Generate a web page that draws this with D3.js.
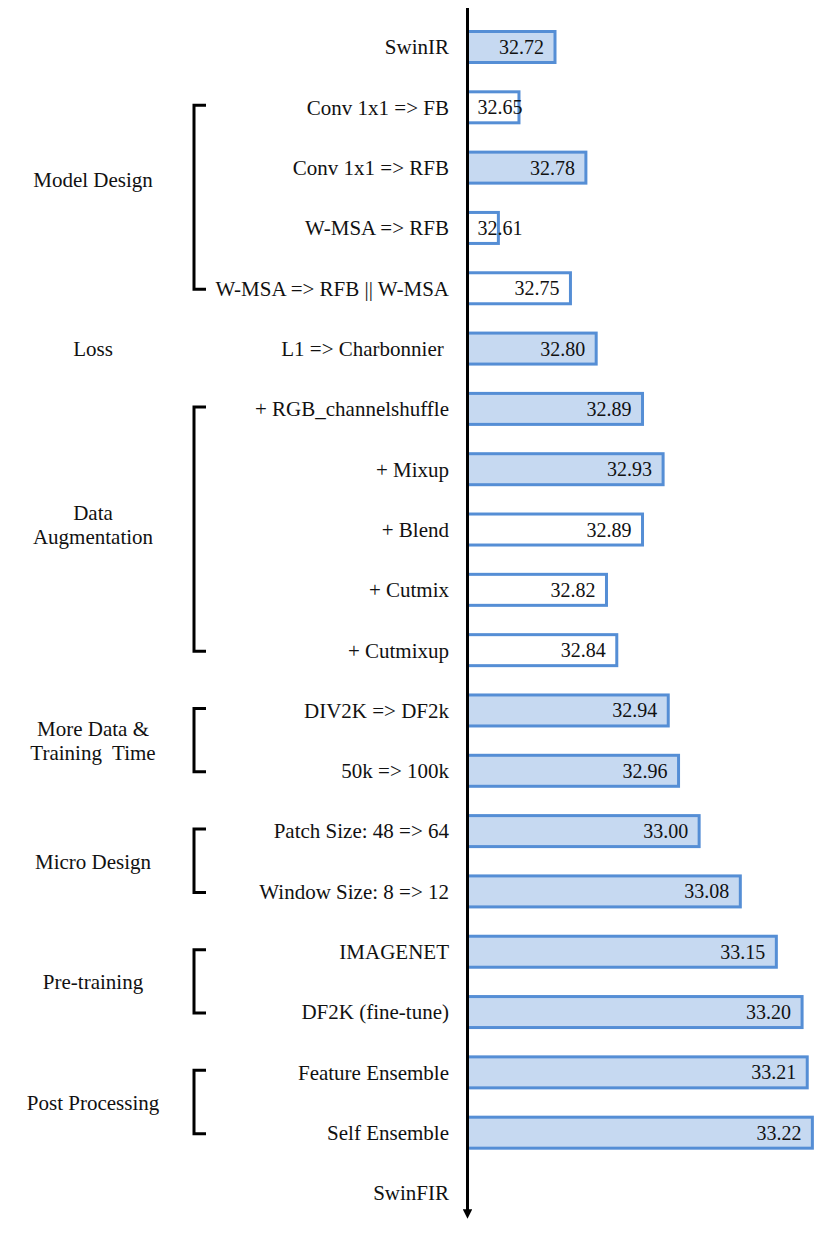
<!DOCTYPE html>
<html>
<head>
<meta charset="utf-8">
<script src="https://cdn.jsdelivr.net/npm/d3@7"></script>
<style>
  body { margin: 0; background: #fff; }
</style>
</head>
<body>
<svg id="ablation" width="831" height="1244"></svg>
<script>
// Steps from SwinIR to SwinFIR, top to bottom.
var steps = ["SwinIR", "Conv 1x1 => FB", "Conv 1x1 => RFB", "W-MSA => RFB",
  "W-MSA => RFB || W-MSA", "L1 => Charbonnier", "+ RGB_channelshuffle", "+ Mixup",
  "+ Blend", "+ Cutmix", "+ Cutmixup", "DIV2K => DF2k", "50k => 100k",
  "Patch Size: 48 => 64", "Window Size: 8 => 12", "IMAGENET", "DF2K (fine-tune)",
  "Feature Ensemble", "Self Ensemble", "SwinFIR"];

// PSNR per step (SwinFIR row has no bar).
var psnr = [32.72, 32.65, 32.78, 32.61, 32.75, 32.80, 32.89, 32.93, 32.89, 32.82,
  32.84, 32.94, 32.96, 33.00, 33.08, 33.15, 33.20, 33.21, 33.22, null];

// true = step kept (filled bar), false = tried and dropped (white bar).
var kept = [true, false, true, false, false, true, true, true, false, false,
  false, true, true, true, true, true, true, true, true, null];

// Groups: label lines, first and last step index.
var groupNames = [["Model Design"], ["Loss"], ["Data", "Augmentation"],
  ["More Data &", "Training  Time"], ["Micro Design"], ["Pre-training"], ["Post Processing"]];
var groupFrom = [1, 5, 6, 11, 13, 15, 17];
var groupTo   = [4, 5, 10, 12, 14, 16, 18];

var FONT = "Liberation Serif";
var svg = d3.select("#ablation");
var axisX = 467.5;

var y = d3.scalePoint().domain(d3.range(steps.length)).range([47, 1193]);
var x = d3.scaleLinear().domain([32.55, 33.25]).range([axisX, axisX + 0.7 * 514.75]);
var barH = 31;

function serif(sel, size) {
  return sel.style("font-family", FONT)
    .style("font-size", size + "px")
    .style("fill", "#111");
}

var rows = steps.map(function(s, i) {
  return { name: s, v: psnr[i], kept: kept[i], i: i };
});

// bars
var bars = rows.filter(function(d) { return d.v != null; });
svg.selectAll("rect.bar")
  .data(bars)
  .enter()
  .append("rect")
  .attr("class", "bar")
  .attr("x", axisX)
  .attr("y", function(d) { return y(d.i) - barH / 2; })
  .attr("width", function(d) { return x(d.v) - axisX; })
  .attr("height", barH)
  .attr("fill", function(d) { return d.kept ? "#c6d9f1" : "#fff"; })
  .attr("stroke", "#558ed5")
  .attr("stroke-width", 3);

// value labels, pushed right when the bar is too short
var vals = svg.selectAll("text.val")
  .data(bars)
  .enter()
  .append("text")
  .attr("class", "val")
  .attr("y", function(d) { return y(d.i); })
  .attr("dy", "0.35em")
  .text(function(d) { return d.v.toFixed(2); });
serif(vals, 20);

function placeVals() {
  vals.attr("x", function(d) {
    var w = this.getComputedTextLength();
    return Math.max(axisX + 10, x(d.v) - 11 - w);
  });
}
placeVals();

// step labels
var labels = svg.selectAll("text.step")
  .data(rows)
  .enter()
  .append("text")
  .attr("class", "step")
  .attr("x", 449)
  .attr("y", function(d) { return y(d.i); })
  .attr("dy", "0.35em")
  .attr("text-anchor", "end")
  .style("white-space", "pre")
  .text(function(d) { return d.name === "L1 => Charbonnier" ? d.name + " " : d.name; });
serif(labels, 21);

// vertical arrow axis
svg.append("defs").append("marker")
  .attr("id", "arrow")
  .attr("viewBox", "0 0 10 10")
  .attr("refX", 5).attr("refY", 5)
  .attr("markerWidth", 3.2).attr("markerHeight", 3.2)
  .attr("orient", "auto")
  .append("path")
  .attr("d", "M0,0L10,5L0,10z")
  .attr("fill", "#000");

svg.append("line")
  .attr("x1", axisX).attr("x2", axisX)
  .attr("y1", 8).attr("y2", 1214)
  .attr("stroke", "#000")
  .attr("stroke-width", 3)
  .attr("marker-end", "url(#arrow)");

// groups
var groups = groupNames.map(function(g, i) {
  return { lines: g, from: groupFrom[i], to: groupTo[i] };
});
var labelShift = { "Model Design": -18, "Data": -5 };

groups.forEach(function(g) {
  var y0 = y(g.from), y1 = y(g.to);
  if (g.to > g.from) {
    svg.append("path")
      .attr("d", "M206," + (y0 - 2) + "H194V" + (y1 + 1) + "H206")
      .attr("fill", "none")
      .attr("stroke", "#000")
      .attr("stroke-width", 3);
  }
  var mid = (y0 + y1) / 2 + (labelShift[g.lines[0]] || 0);
  var lh = 24;
  var t = svg.append("text")
    .attr("x", 93)
    .attr("text-anchor", "middle")
    .style("white-space", "pre");
  serif(t, 21);
  g.lines.forEach(function(line, k) {
    t.append("tspan")
      .attr("x", 93)
      .attr("y", mid + (k - (g.lines.length - 1) / 2) * lh)
      .attr("dy", "0.35em")
      .text(line);
  });
});

if (document.fonts && document.fonts.ready) document.fonts.ready.then(placeVals);
</script>
</body>
</html>
